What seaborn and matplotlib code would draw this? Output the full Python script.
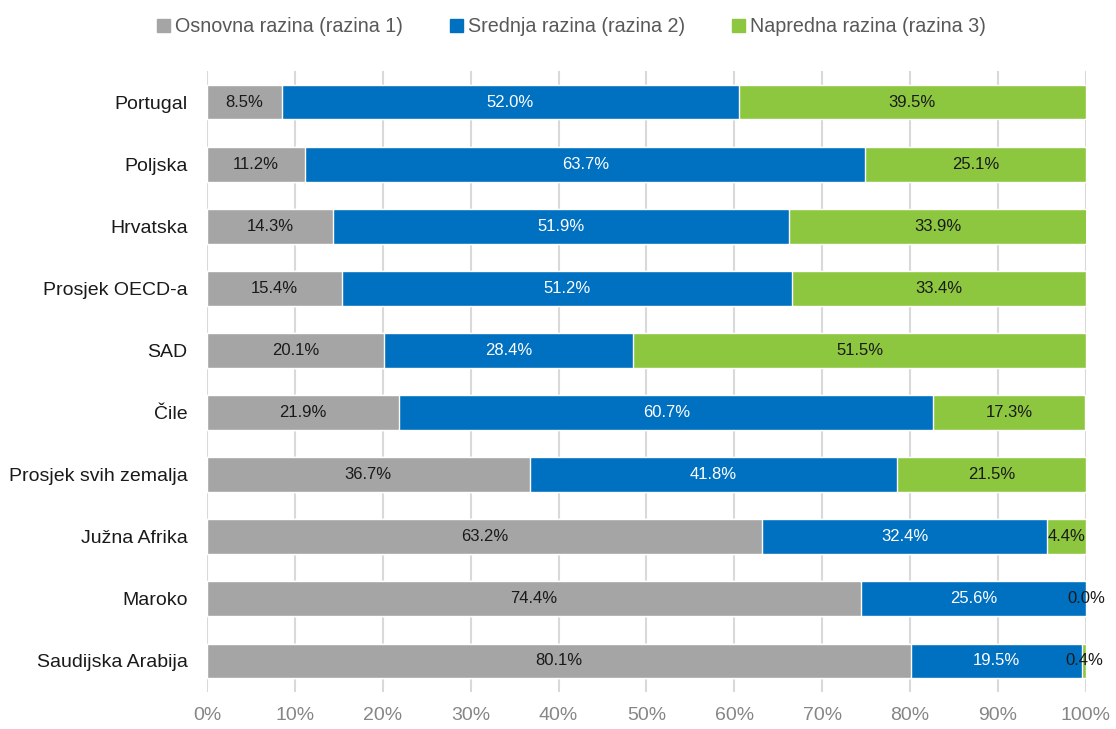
import matplotlib
matplotlib.use("Agg")
import matplotlib.pyplot as plt
import seaborn as sns
import pandas as pd
import numpy as np

countries = ["Portugal", "Poljska", "Hrvatska", "Prosjek OECD-a", "SAD", "Čile",
             "Prosjek svih zemalja", "Južna Afrika", "Maroko", "Saudijska Arabija"]
razina1 = [8.5, 11.2, 14.3, 15.4, 20.1, 21.9, 36.7, 63.2, 74.4, 80.1]
razina2 = [52.0, 63.7, 51.9, 51.2, 28.4, 60.7, 41.8, 32.4, 25.6, 19.5]
razina3 = [39.5, 25.1, 33.9, 33.4, 51.5, 17.3, 21.5, 4.4, 0.0, 0.4]
series_names = ["Osnovna razina (razina 1)", "Srednja razina (razina 2)", "Napredna razina (razina 3)"]
colors = ["#A5A5A5", "#0070C0", "#8DC63F"]
label_colors = ["#1A1A1A", "white", "#1A1A1A"]

sns.set_style("white")
plt.rcParams["font.family"] = ["Liberation Sans", "DejaVu Sans"]

df = pd.DataFrame({"zemlja": countries, "r1": razina1, "r2": razina2, "r3": razina3})
df["c1"] = df["r1"]
df["c2"] = df["r1"] + df["r2"]
df["c3"] = df["c2"] + df["r3"]

fig = plt.figure(figsize=(11.16, 7.29), dpi=100)
ax = fig.add_axes([0.1855, 0.0508, 0.7875, 0.8518])

# stacked via overlaying cumulative totals, largest first
for col, color in [("c3", colors[2]), ("c2", colors[1]), ("c1", colors[0])]:
    sns.barplot(data=df, x=col, y="zemlja", orient="h", color=color, width=0.56,
                saturation=1, ax=ax, zorder=3)

# value labels in segment centres
starts = [np.zeros(len(df)), df["c1"].values, df["c2"].values]
vals = [df["r1"].values, df["r2"].values, df["r3"].values]
for s, v, tc in zip(starts, vals, label_colors):
    for i, (a, b) in enumerate(zip(s, v)):
        ax.text(a + b / 2, i, f"{b:.1f}%", ha="center", va="center",
                fontsize=12, color=tc, zorder=4)

ax.set_xlim(0, 100)
ax.set_ylim(9.5, -0.5)
ax.set_xticks(range(0, 101, 10))
ax.set_xticklabels([f"{t}%" for t in range(0, 101, 10)])
ax.xaxis.grid(True, color="#D9D9D9", linewidth=1.5, zorder=0)
ax.set_axisbelow(True)
ax.set_xlabel("")
ax.set_ylabel("")
for sp in ax.spines.values():
    sp.set_visible(False)
ax.tick_params(axis="x", colors="#868686", labelsize=14, length=0, pad=11)
ax.tick_params(axis="y", colors="#1A1A1A", labelsize=14, length=0, pad=14)

handles = [plt.Rectangle((0, 0), 1, 1, color=c) for c in colors]
fig.legend(handles, series_names, loc="center", bbox_to_anchor=(0.512, 0.963), ncol=3,
           frameon=False, fontsize=14.2, handlelength=0.65, handleheight=0.65,
           handletextpad=0.25, columnspacing=2.4, labelcolor="#595959")

fig.savefig("out.png", dpi=100)
